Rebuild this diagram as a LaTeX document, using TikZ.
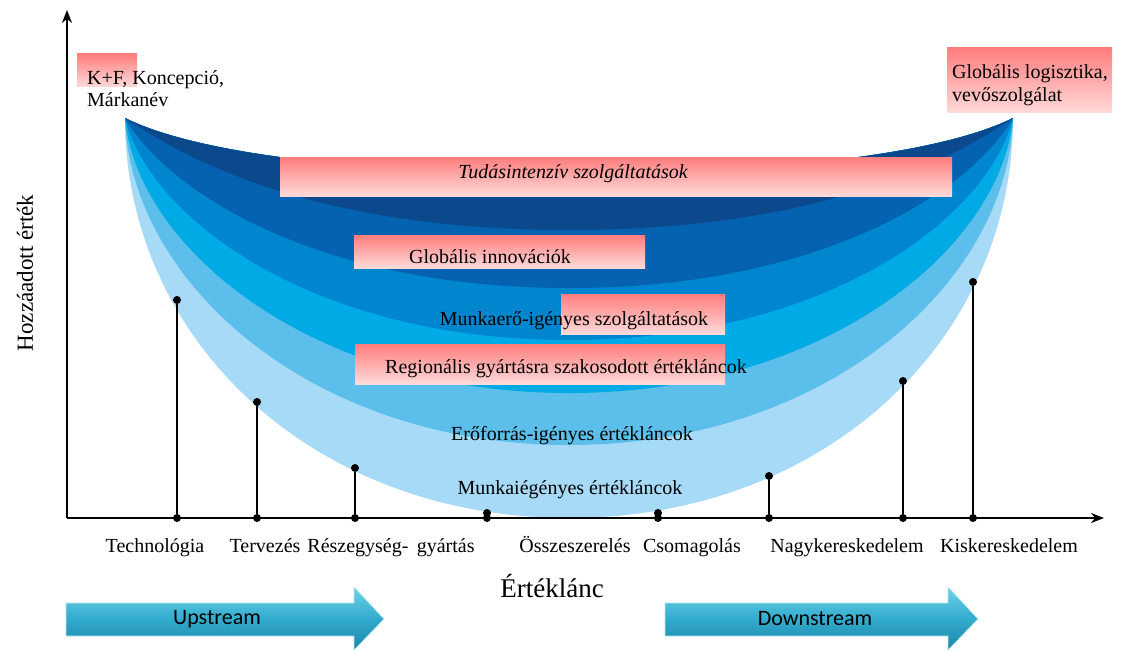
\documentclass[tikz,border=0pt]{standalone}
\usepackage{fontspec}
\setmainfont{Liberation Serif}
\newfontfamily\carlito{Carlito}
\usetikzlibrary{positioning,arrows.meta}
\definecolor{layerA}{RGB}{12,72,140}
\definecolor{layerB}{RGB}{4,98,176}
\definecolor{layerC}{RGB}{0,134,206}
\definecolor{layerD}{RGB}{0,170,228}
\definecolor{layerE}{RGB}{92,190,234}
\definecolor{layerF}{RGB}{166,218,246}
\definecolor{pinktop}{RGB}{255,125,125}
\definecolor{pinkbot}{RGB}{255,218,218}
\definecolor{arrowtop}{RGB}{112,210,232}
\definecolor{arrowmid}{RGB}{50,172,206}
\definecolor{arrowbot}{RGB}{28,132,168}

\tikzset{
  pinkbox/.style={top color=pinktop, bottom color=pinkbot},
  lbl/.style={font=\fontsize{20}{22}\selectfont, inner sep=0pt},
  stem/.style={line width=1.7pt},
  dot/.style={circle, fill=black, inner sep=0pt, minimum size=8pt},
  axis/.style={line width=1.7pt, -{Stealth[length=13pt,width=10pt]}},
  bigarrow/.style={top color=arrowtop, bottom color=arrowbot, middle color=arrowmid, draw=arrowtop!50!white, line width=0.6pt},
}

\begin{document}
\begin{tikzpicture}[x=1pt, y=-1pt]
  \useasboundingbox (0,0) rectangle (1121,650);

  % layers of the bowl, outermost first
  \foreach \a/\b/\d/\c in {0/221/400/layerF, 5/165/327/layerE, 12/130/275/layerD, 25/100/222/layerC, 40/70/170/layerB, 60/40/112/layerA}
    \fill[\c] (125,118) .. controls ({125+\a},{118+\b}) and (312,{118+\d}) .. (569,{118+\d})
          .. controls (826,{118+\d}) and ({1013-\a},{118+\b}) .. (1013,118)
          .. controls (953,148) and (814,173) .. (569,173)
          .. controls (324,173) and (185,148) .. cycle;

  % pink labels
  \shade[pinkbox] (77,54) rectangle (137,87);
  \shade[pinkbox] (947,48) rectangle (1112,113);
  \shade[pinkbox] (280,157) rectangle (952,196);
  \shade[pinkbox] (354,235) rectangle (645,268);
  \shade[pinkbox] (561,294) rectangle (725,334);
  \shade[pinkbox] (355,344) rectangle (725,384);

  \node[lbl, anchor=base west] (kf) at (87,85) {K+F, Koncepció,};
  \node[lbl, anchor=base west] (marka) at (87,107) {Márkanév};
  \node[lbl, anchor=base west] (logist) at (952,79) {Globális logisztika,};
  \node[lbl, anchor=base west] (vevo) at (952,102) {vevőszolgálat};
  \node[lbl, anchor=base, font=\fontsize{20}{22}\selectfont\itshape] (tudas) at (573,178) {Tudásintenzív szolgáltatások};
  \node[lbl, anchor=base] (innov) at (490,263) {Globális innovációk};
  \node[lbl, anchor=base] (munkaero) at (574,325) {Munkaerő-igényes szolgáltatások};
  \node[lbl, anchor=base] (regio) at (566,373) {Regionális gyártásra szakosodott értékláncok};
  \node[lbl, anchor=base] (eroforras) at (572,440) {Erőforrás-igényes értékláncok};
  \node[lbl, anchor=base] (munkai) at (570,494) {Munkaiégényes értékláncok};

  % axes
  \coordinate (origin) at (67,518);
  \coordinate (ytip) at (67,10);
  \coordinate (xtip) at (1104,518);
  \draw[axis] (origin) -- (ytip);
  \draw[axis] (origin) -- (xtip);
  \node[font=\fontsize{23}{26}\selectfont, rotate=90] (yname) at (25,273) {Hozzáadott érték};
  \node[font=\fontsize{27}{30}\selectfont, anchor=base] (xname) at (552,597) {Értéklánc};

  % stems
  \foreach \x/\y [count=\i] in {177/300, 257/402, 355/468, 487/513, 658/513, 769/476, 903/381, 973/282} {
    \node[dot] (top\i) at (\x,\y) {};
    \node[dot] (base\i) at (\x,518) {};
    \draw[stem] (top\i) -- (base\i);
  }

  % stage labels
  \node[lbl, anchor=base] (tech) at (155,552) {Technológia};
  \node[lbl, anchor=base] (terv) at (265,552) {Tervezés};
  \node[lbl, anchor=base] (resz) at (391,552) {Részegység-\, gyártás};
  \node[lbl, anchor=base] (ossze) at (575,552) {Összeszerelés};
  \node[lbl, anchor=base] (csomag) at (692,552) {Csomagolás};
  \node[lbl, anchor=base] (nagyker) at (847,552) {Nagykereskedelem};
  \node[lbl, anchor=base] (kisker) at (1009,552) {Kiskereskedelem};

  % upstream / downstream
  \shade[bigarrow] (66,603) -- (354,603) -- (354,587) -- (384,619) -- (354,650) -- (354,636) -- (66,636) -- cycle;
  \shade[bigarrow] (665,603) -- (948,603) -- (948,587) -- (978,619) -- (948,650) -- (948,636) -- (665,636) -- cycle;
  \node[font=\carlito\fontsize{22}{24}\selectfont] (up) at (217,619) {Upstream};
  \node[font=\carlito\fontsize{22}{24}\selectfont] (down) at (815,619) {Downstream};
\end{tikzpicture}
\end{document}
